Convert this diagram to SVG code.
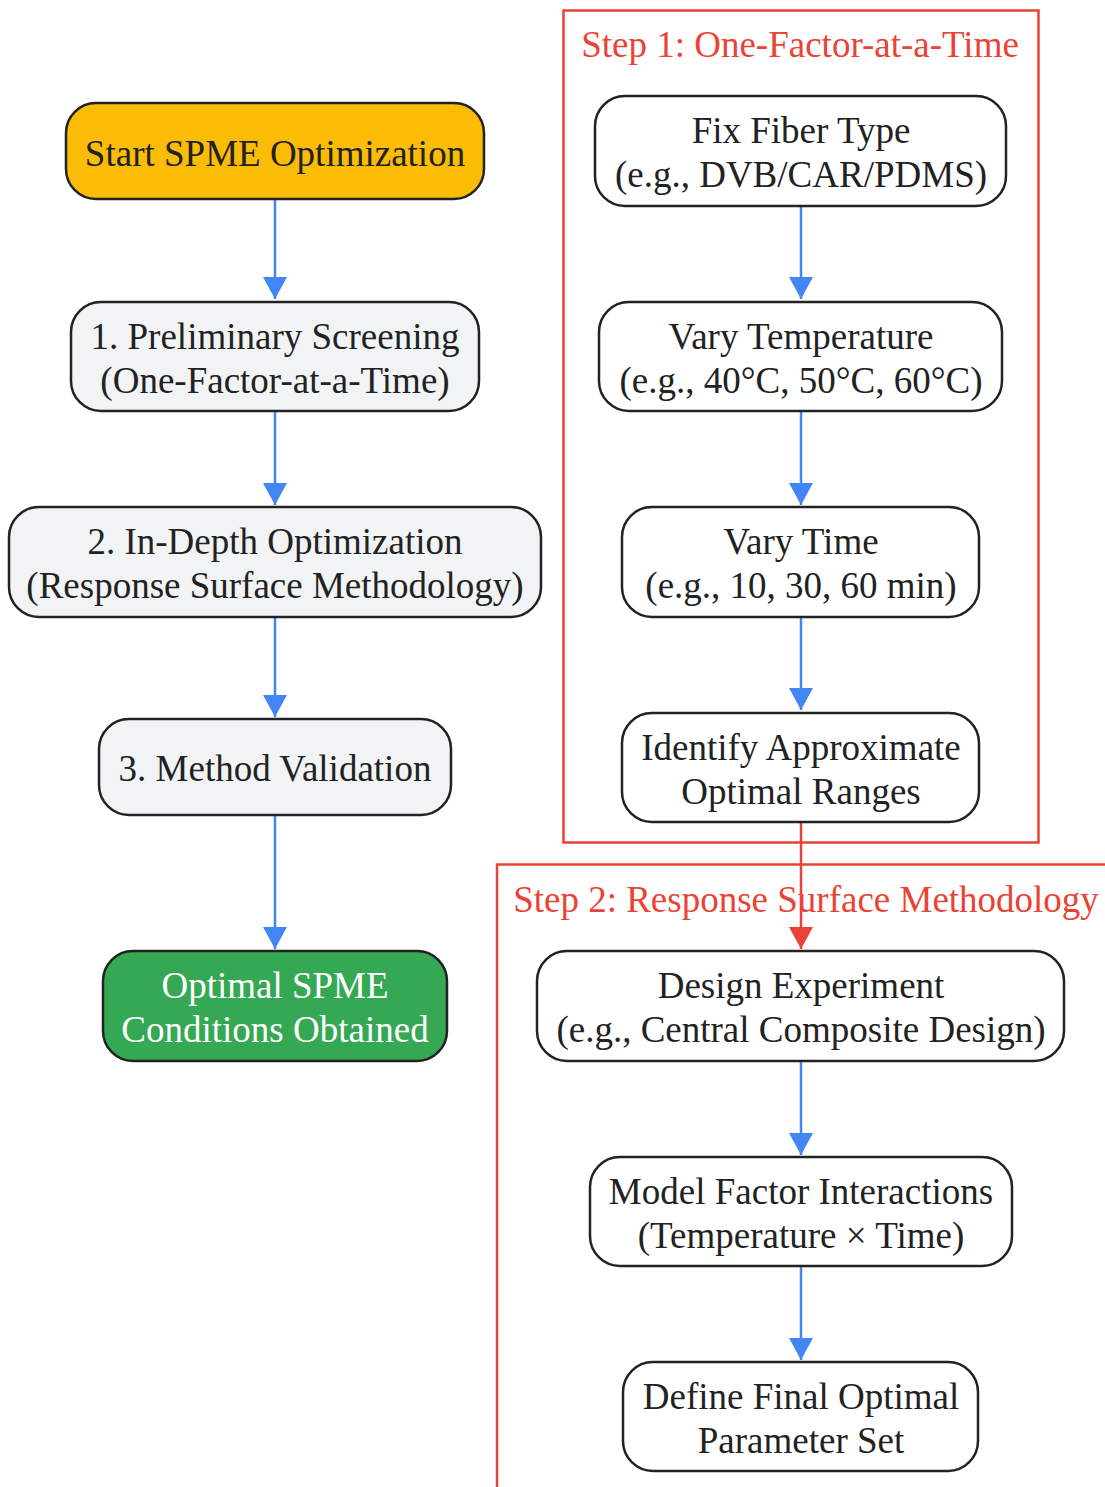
<svg xmlns="http://www.w3.org/2000/svg" width="1105" height="1487" viewBox="0 0 1105 1487">
<defs>
<style>
.n{stroke:#222;stroke-width:2.5}
.t{font-family:"Liberation Serif",serif;font-size:37px;fill:#222;text-anchor:middle}
.w{fill:#fff}
.c{stroke:#4285F4;stroke-width:2.5;fill:none}
.cr{stroke:#EA4335;stroke-width:2.5;fill:none}
.g{fill:none;stroke:#EA4335;stroke-width:2.5}
.gt{font-family:"Liberation Serif",serif;font-size:37px;fill:#EA4335;text-anchor:middle}
</style>
<marker id="ab" viewBox="0 0 22 24" refX="22" refY="12" markerWidth="22" markerHeight="24" markerUnits="userSpaceOnUse" orient="auto"><path d="M0,0L22,12L0,24z" fill="#4285F4"/></marker>
<marker id="ar" viewBox="0 0 22 24" refX="22" refY="12" markerWidth="22" markerHeight="24" markerUnits="userSpaceOnUse" orient="auto"><path d="M0,0L22,12L0,24z" fill="#EA4335"/></marker>
</defs>
<rect width="1105" height="1487" fill="#fff"/>
<g id="step1"><rect class="g" x="563.5" y="10.5" width="475" height="832"/><text class="gt" x="800" y="57">Step 1: One-Factor-at-a-Time</text></g>
<g id="step2"><rect class="g" x="497" y="864.5" width="620" height="640"/><text class="gt" x="806" y="912">Step 2: Response Surface Methodology</text></g>
<g id="connectors">
<path class="c" d="M275,199V299" marker-end="url(#ab)"/>
<path class="c" d="M275,411V505" marker-end="url(#ab)"/>
<path class="c" d="M275,617V717" marker-end="url(#ab)"/>
<path class="c" d="M275,815V949" marker-end="url(#ab)"/>
<path class="c" d="M801,206V299" marker-end="url(#ab)"/>
<path class="c" d="M801,411V505" marker-end="url(#ab)"/>
<path class="c" d="M801,617V710" marker-end="url(#ab)"/>
<path class="cr" d="M801,822V949" marker-end="url(#ar)"/>
<path class="c" d="M801,1061V1155" marker-end="url(#ab)"/>
<path class="c" d="M801,1266V1360" marker-end="url(#ab)"/>
</g>
<g id="start"><rect class="n" x="66" y="103" width="418" height="96" rx="30" fill="#FBBC05"/><text class="t" x="275" y="166">Start SPME Optimization</text></g>
<g id="prelim"><rect class="n" x="71" y="302" width="408" height="109" rx="30" fill="#F1F3F4"/><text class="t" x="275" y="349">1. Preliminary Screening</text><text class="t" x="275" y="393">(One-Factor-at-a-Time)</text></g>
<g id="indepth"><rect class="n" x="9" y="507" width="532" height="110" rx="30" fill="#F1F3F4"/><text class="t" x="275" y="554">2. In-Depth Optimization</text><text class="t" x="275" y="598">(Response Surface Methodology)</text></g>
<g id="validation"><rect class="n" x="99" y="719" width="352" height="96" rx="30" fill="#F1F3F4"/><text class="t" x="275" y="781">3. Method Validation</text></g>
<g id="optimal"><rect class="n" x="103" y="951" width="344" height="110" rx="30" fill="#34A853"/><text class="t w" x="275" y="998">Optimal SPME</text><text class="t w" x="275" y="1042">Conditions Obtained</text></g>
<g id="fiber"><rect class="n" x="595" y="96" width="411" height="110" rx="30" fill="#fff"/><text class="t" x="801" y="143">Fix Fiber Type</text><text class="t" x="801" y="187">(e.g., DVB/CAR/PDMS)</text></g>
<g id="temp"><rect class="n" x="599" y="302" width="403" height="109" rx="30" fill="#fff"/><text class="t" x="801" y="349">Vary Temperature</text><text class="t" x="801" y="393">(e.g., 40°C, 50°C, 60°C)</text></g>
<g id="time"><rect class="n" x="622" y="507" width="357" height="110" rx="30" fill="#fff"/><text class="t" x="801" y="554">Vary Time</text><text class="t" x="801" y="598">(e.g., 10, 30, 60 min)</text></g>
<g id="identify"><rect class="n" x="622" y="713" width="357" height="109" rx="30" fill="#fff"/><text class="t" x="801" y="760">Identify Approximate</text><text class="t" x="801" y="804">Optimal Ranges</text></g>
<g id="design"><rect class="n" x="537" y="951" width="527" height="110" rx="30" fill="#fff"/><text class="t" x="801" y="998">Design Experiment</text><text class="t" x="801" y="1042">(e.g., Central Composite Design)</text></g>
<g id="model"><rect class="n" x="590" y="1157" width="422" height="109" rx="30" fill="#fff"/><text class="t" x="801" y="1204">Model Factor Interactions</text><text class="t" x="801" y="1248">(Temperature × Time)</text></g>
<g id="final"><rect class="n" x="623" y="1362" width="355" height="109" rx="30" fill="#fff"/><text class="t" x="801" y="1409">Define Final Optimal</text><text class="t" x="801" y="1453">Parameter Set</text></g>
</svg>
